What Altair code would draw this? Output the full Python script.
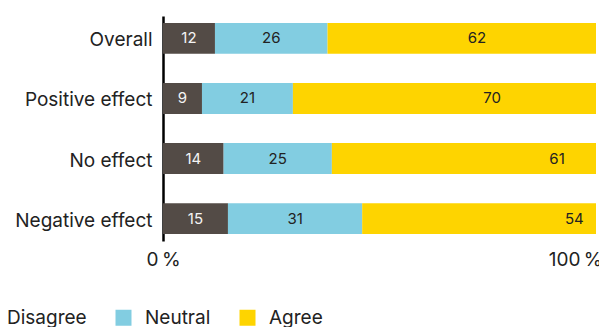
import altair as alt
import pandas as pd

groups = ["Overall", "Positive effect", "No effect", "Negative effect"]
responses = ["Disagree", "Neutral", "Agree"]
disagree = [12, 9, 14, 15]
neutral = [26, 21, 25, 31]
agree = [62, 70, 61, 54]
agree_label_at = [72.5, 76, 91, 95]
colors = ["#534b46", "#82cde1", "#fed400"]
text_colors = ["#f4f4f4", "#222222", "#222222"]

rows = []
for i, g in enumerate(groups):
    for j, (r, v) in enumerate(zip(responses, [disagree[i], neutral[i], agree[i]])):
        rows.append({"group": g, "response": r, "value": v, "order": j,
                     "label_at": agree_label_at[i] if r == "Agree" else None})
df = pd.DataFrame(rows)

FONT = "Inter"

base = alt.Chart(df).transform_stack(
    stack="value", groupby=["group"], as_=["start", "end"],
    sort=[alt.SortField("order", order="ascending")]
).transform_calculate(
    mid="datum.response == 'Agree' ? datum.label_at : (datum.start + datum.end) / 2"
)

y = alt.Y("group:N", sort=groups, title=None,
          scale=alt.Scale(paddingInner=0.486, paddingOuter=0.116),
          axis=alt.Axis(labelFontSize=19, labelColor="#222222", labelFont=FONT,
                        ticks=False, domainColor="#000000", domainWidth=2.5,
                        labelPadding=11, labelOffset=2))

bars = base.mark_bar().encode(
    x=alt.X("start:Q", scale=alt.Scale(domain=[0, 100]), title=None,
            axis=alt.Axis(values=[0, 100], labelExpr="datum.value + '\u202f%'",
                          domain=False, ticks=False, grid=False,
                          labelFontSize=19, labelFont=FONT, labelColor="#222222",
                          labelPadding=9,
                          labelAlign={"condition": {"test": "datum.value == 100", "value": "right"}, "value": "center"},
                          labelOffset={"condition": {"test": "datum.value == 100", "value": 6}, "value": 0})),
    x2="end:Q",
    y=y,
    color=alt.Color("response:N", sort=responses,
                    scale=alt.Scale(domain=responses, range=colors),
                    legend=alt.Legend(title=None, orient="none", direction="horizontal",
                                      legendX=-187, legendY=292,
                                      symbolType="square", symbolSize=256,
                                      symbolStrokeWidth=0, symbolOpacity=1,
                                      labelFontSize=19, labelFont=FONT, labelColor="#222222",
                                      labelOffset=12, columnPadding=27)),
)

labels = base.mark_text(fontSize=15, font=FONT).encode(
    x=alt.X("mid:Q"),
    y=alt.Y("group:N", sort=groups),
    text=alt.Text("value:Q"),
    color=alt.Color("response:N", scale=alt.Scale(domain=responses, range=text_colors), legend=None),
)

chart = alt.layer(bars, labels).resolve_scale(color="independent").properties(
    width=433, height=225,
    autosize=alt.AutoSizeParams(type="none"),
    padding={"left": 163, "top": 16, "right": 3, "bottom": 86},
).configure_view(stroke=None)

chart.save("out.html", embed_options={"renderer": "svg", "actions": False})
